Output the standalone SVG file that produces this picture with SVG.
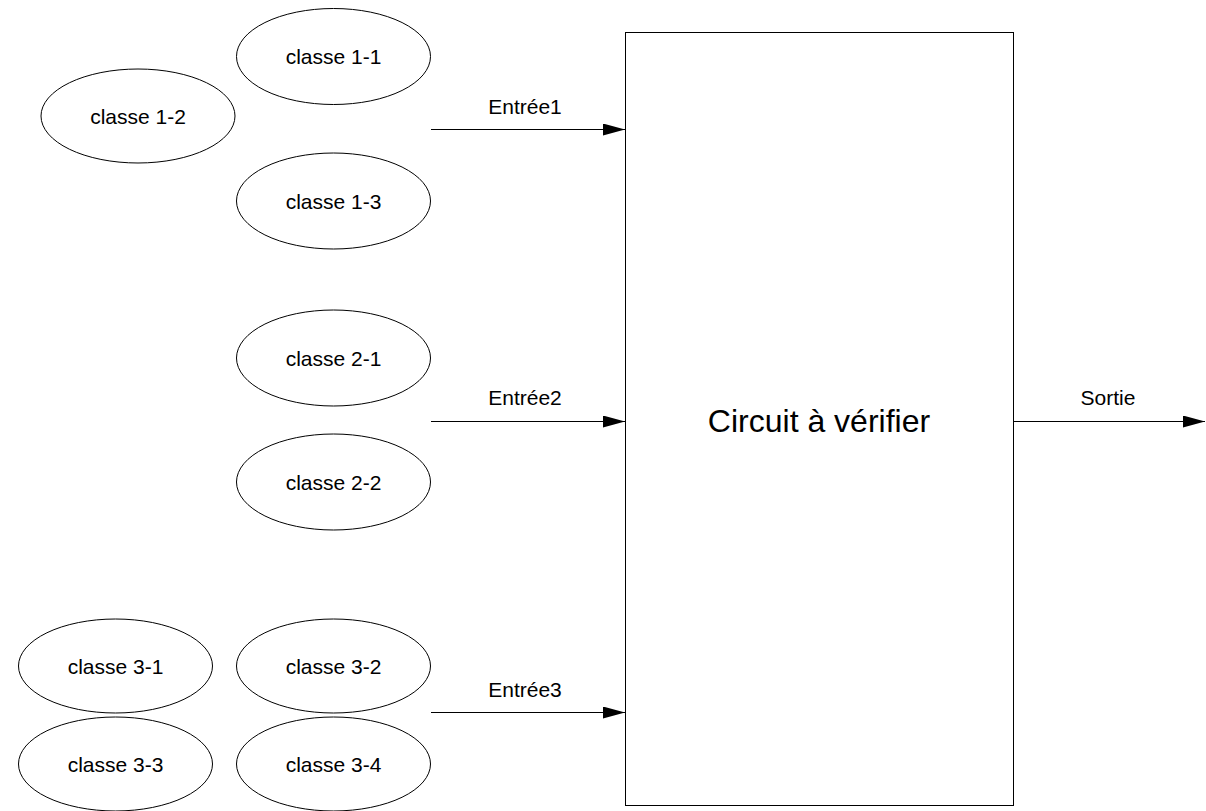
<svg xmlns="http://www.w3.org/2000/svg" width="1206" height="811" viewBox="0 0 1206 811">
<style>
.e{fill:#fff;stroke:#000;stroke-width:1}
.t{font-family:"Liberation Sans",Arial,sans-serif;font-size:21px;fill:#000;text-anchor:middle;dominant-baseline:central}
.c{stroke:#000;stroke-width:1;fill:none;marker-end:url(#a)}
</style>
<defs><marker id="a" markerWidth="22" markerHeight="12" refX="22" refY="6" orient="auto" markerUnits="userSpaceOnUse"><path d="M0,0L22,6L0,12z" fill="#000"/></marker></defs>
<rect width="1206" height="811" fill="#fff"/>
<g id="c11"><ellipse class="e" cx="333.5" cy="56.5" rx="97" ry="48"/><text class="t" x="333.5" y="56">classe 1-1</text></g>
<g id="c12"><ellipse class="e" cx="138" cy="116" rx="97" ry="47"/><text class="t" x="138" y="116">classe 1-2</text></g>
<g id="c13"><ellipse class="e" cx="333.5" cy="201" rx="97" ry="48"/><text class="t" x="333.5" y="201">classe 1-3</text></g>
<g id="c21"><ellipse class="e" cx="333.5" cy="358" rx="97" ry="48"/><text class="t" x="333.5" y="358">classe 2-1</text></g>
<g id="c22"><ellipse class="e" cx="333.5" cy="482" rx="97" ry="48"/><text class="t" x="333.5" y="482">classe 2-2</text></g>
<g id="c31"><ellipse class="e" cx="115.5" cy="666" rx="97" ry="47"/><text class="t" x="115.5" y="666">classe 3-1</text></g>
<g id="c32"><ellipse class="e" cx="333.5" cy="666" rx="97" ry="47"/><text class="t" x="333.5" y="666">classe 3-2</text></g>
<g id="c33"><ellipse class="e" cx="115.5" cy="764" rx="97" ry="47"/><text class="t" x="115.5" y="764">classe 3-3</text></g>
<g id="c34"><ellipse class="e" cx="333.5" cy="764" rx="97" ry="47"/><text class="t" x="333.5" y="764">classe 3-4</text></g>
<g id="circuit"><rect x="625.5" y="32.5" width="388" height="773" fill="#fff" stroke="#000"/><text class="t" x="819" y="421" style="font-size:32px">Circuit à vérifier</text></g>
<g id="connectors">
<line class="c" x1="431" y1="129.5" x2="625" y2="129.5"/>
<line class="c" x1="431" y1="421.5" x2="625" y2="421.5"/>
<line class="c" x1="431" y1="712.5" x2="625" y2="712.5"/>
<line class="c" x1="1013" y1="421.5" x2="1205" y2="421.5"/>
<text class="t" x="525" y="106">Entrée1</text>
<text class="t" x="525" y="397">Entrée2</text>
<text class="t" x="525" y="689">Entrée3</text>
<text class="t" x="1108" y="397">Sortie</text>
</g>
</svg>
